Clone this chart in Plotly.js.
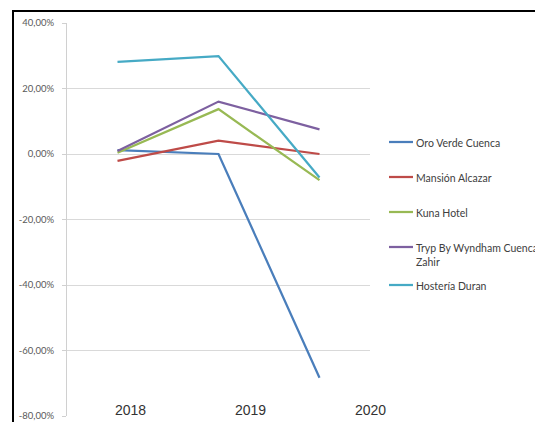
<!DOCTYPE html>
<html>
<head>
<meta charset="utf-8">
<script src="https://cdn.plot.ly/plotly-3.0.1.min.js"></script>
<style>
  html, body { margin: 0; padding: 0; background: #fff; }
  #wrap { position: relative; width: 535px; height: 422px; overflow: hidden; }
  #chart { position: absolute; left: 0; top: 0; width: 535px; height: 422px; }
  #frame { position: absolute; left: 12px; top: 10px; width: 600px; height: 500px;
           border-left: 2px solid #000; border-top: 2px solid #000; pointer-events: none; }
</style>
</head>
<body>
<div id="wrap"><div id="chart"></div><div id="frame"></div></div>
<script>
// ---- data ----
const years = ["2018", "2019", "2020"];
const seriesNames = ["Oro Verde Cuenca", "Mansión Alcazar", "Kuna Hotel", "Tryp By Wyndham Cuenca<br>Zahir", "Hostería Duran"];
const oroVerde  = [0.012, 0.000, -0.683];
const mansion   = [-0.021, 0.041, 0.000];
const kuna      = [0.004, 0.137, -0.080];
const tryp      = [0.009, 0.160, 0.075];
const hosteria  = [0.281, 0.299, -0.072];
const seriesColors = ["#4A7EBB", "#BE4B48", "#98B954", "#7D60A0", "#46AAC5"];
const yTickVals = [-0.8, -0.6, -0.4, -0.2, 0, 0.2, 0.4];
const yTickText = ["-80,00%", "-60,00%", "-40,00%", "-20,00%", "0,00%", "20,00%", "40,00%"];
const xLabelPos = [0.208, 0.604, 1.0];   // paper positions of the year labels
const legendY = [142, 177, 212, 247, 285]; // pixel rows of legend entries

// ---- build ----
const allValues = [oroVerde, mansion, kuna, tryp, hosteria];
const traces = allValues.map((vals, i) => ({
  type: "scatter", mode: "lines",
  x: years, y: vals, name: seriesNames[i],
  line: { color: seriesColors[i], width: 2.25 },
  showlegend: false, hoverinfo: "skip"
}));

const W = 535, H = 422;
const L = 67, R = 370, T = 23, B = 416;
const px2x = p => (p - L) / (R - L);
const px2y = p => (B - p) / (B - T);

const shapes = [];
const annotations = [];

// white strip that hides the bottom axis, as in the reference
shapes.push({ type: "rect", xref: "paper", yref: "paper", layer: "above",
  x0: px2x(82), x1: px2x(400), y0: px2y(422), y1: px2y(399),
  fillcolor: "#ffffff", line: { width: 0 } });

years.forEach((yr, i) => {
  annotations.push({ xref: "paper", yref: "paper", x: xLabelPos[i], y: px2y(410),
    text: yr, showarrow: false, xanchor: "center", yanchor: "middle",
    font: { family: "Liberation Sans, Arial, sans-serif", size: 14, color: "#333333" } });
});

seriesNames.forEach((nm, i) => {
  const yy = px2y(legendY[i]);
  shapes.push({ type: "line", xref: "paper", yref: "paper",
    x0: px2x(389), x1: px2x(413), y0: yy, y1: yy,
    line: { color: seriesColors[i], width: 2.25 } });
  annotations.push({ xref: "paper", yref: "paper", x: px2x(414), y: px2y(legendY[i] - 7),
    text: nm, showarrow: false, xanchor: "left", yanchor: "top", align: "left",
    font: { family: "Lato, sans-serif", size: 10.5, color: "#404040" } });
});

const layout = {
  width: W, height: H,
  margin: { l: L, r: W - R, t: T, b: H - B, pad: 0 },
  paper_bgcolor: "#ffffff", plot_bgcolor: "#ffffff",
  showlegend: false,
  xaxis: { type: "category", range: [-0.5, 2.5], showgrid: false, zeroline: false,
    showline: false, showticklabels: false, ticks: "", fixedrange: true },
  yaxis: { range: [-0.8, 0.4], tickvals: yTickVals, ticktext: yTickText,
    showgrid: true, gridcolor: "#d9d9d9", gridwidth: 1,
    zeroline: true, zerolinecolor: "#d9d9d9", zerolinewidth: 1,
    showline: true, linecolor: "#d0d0d0", linewidth: 1,
    ticks: "outside", ticklen: 4, tickcolor: "#d0d0d0",
    ticklabelstandoff: 6,
    tickfont: { family: "Lato, sans-serif", size: 9.5, color: "#595959" } },
  shapes: shapes,
  annotations: annotations
};

Plotly.newPlot("chart", traces, layout, { staticPlot: true, displayModeBar: false });
</script>
</body>
</html>
